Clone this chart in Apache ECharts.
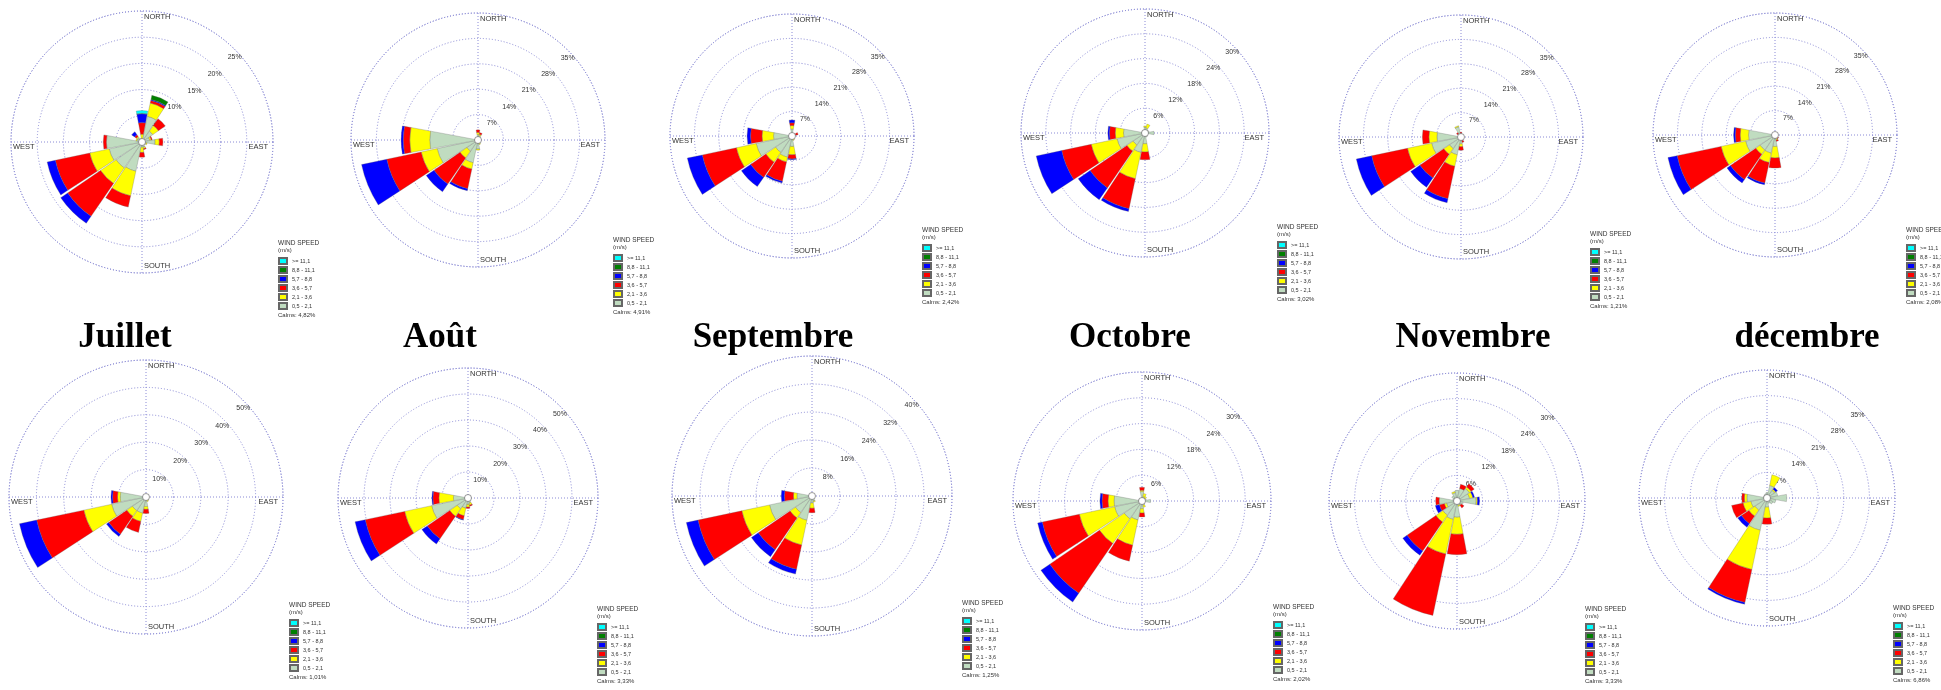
<!DOCTYPE html>
<html>
<head>
<meta charset="utf-8">
<script src="https://cdn.jsdelivr.net/npm/echarts@6/dist/echarts.min.js"></script>
<style>
  html, body { margin: 0; padding: 0; background: #fff; }
  #main { width: 1941px; height: 690px; }
</style>
</head>
<body>
<div id="main"></div>
<script>
// 16 directions, clockwise from north
const directions = ['N', 'NNE', 'NE', 'ENE', 'E', 'ESE', 'SE', 'SSE', 'S', 'SSW', 'SW', 'WSW', 'W', 'WNW', 'NW', 'NNW'];
// speed classes, from the centre outwards
const speedClasses = ['0,5 - 2,1', '2,1 - 3,6', '3,6 - 5,7', '5,7 - 8,8', '8,8 - 11,1', '>= 11,1'];
const monthTitles = ['Juillet', 'Août', 'Septembre', 'Octobre', 'Novembre', 'décembre'];
const ringSteps = [5, 7, 7, 6, 7, 7, 10, 10, 8, 6, 6, 7]; // % per ring, 5 rings each
const calms = ['4,82%', '4,91%', '2,42%', '3,02%', '1,21%', '2,08%', '1,01%', '3,33%', '1,25%', '2,02%', '3,33%', '6,86%'];

// frequencies (%) per speed class, rows follow speedClasses, columns follow directions
const rose01 = [
  [0.5, 5.0, 2.5, 1.5, 2.5, 0.8, 0.6, 1.0, 1.0, 5.7, 6.0, 6.4, 6.8, 1.0, 1.0, 0.5],
  [1.0, 2.6, 1.3, 0.3, 0.8, 0.2, 0, 0.3, 1.0, 4.8, 3.6, 3.8, 0, 0.2, 0.3, 0.2],
  [2.2, 0.5, 1.6, 0.2, 0.7, 0, 0, 0.2, 0.9, 2.2, 7.6, 6.7, 0.6, 0, 0.4, 0],
  [1.7, 0.2, 0, 0, 0, 0, 0, 0, 0, 0, 1.6, 1.6, 0, 0, 0.7, 0],
  [0.1, 0.8, 0, 0, 0, 0, 0, 0, 0, 0, 0, 0, 0, 0, 0, 0],
  [0.5, 0, 0, 0, 0, 0, 0, 0, 0, 0, 0, 0, 0, 0, 0, 0]
];
const rose02 = [
  [1.5, 1.2, 0.4, 0.3, 0.3, 0.3, 0.4, 1.0, 2.5, 6.4, 3.7, 11.5, 13.3, 0.3, 0.3, 0.5],
  [0.6, 0.4, 0, 0, 0, 0, 0, 0.3, 0.3, 1.8, 2.3, 4.5, 5.5, 0, 0, 0],
  [0.7, 0.5, 0, 0, 0, 0, 0, 0, 0, 5.5, 8.7, 9.7, 1.8, 0, 0, 0],
  [0, 0, 0, 0, 0, 0, 0, 0, 0, 0.6, 2.6, 7.1, 0.6, 0, 0, 0],
  [0, 0, 0, 0, 0, 0, 0, 0, 0, 0, 0, 0, 0, 0, 0, 0],
  [0, 0, 0, 0, 0, 0, 0, 0, 0, 0, 0, 0, 0, 0, 0, 0]
];
const rose03 = [
  [2.0, 0.5, 0.6, 1.0, 0.5, 0.4, 0.5, 1.0, 3.0, 6.2, 5.7, 10.5, 5.3, 0.5, 0.5, 0.6],
  [1.0, 0, 0, 0, 0, 0, 0, 0.3, 2.4, 1.4, 3.4, 5.8, 3.3, 0, 0, 0],
  [0.8, 0, 0.3, 0.8, 0, 0, 0, 0, 1.2, 5.7, 5.3, 10.0, 3.3, 0, 0, 0],
  [0.8, 0, 0, 0, 0, 0, 0, 0, 0.2, 0.5, 3.2, 4.4, 1.0, 0, 0, 0],
  [0, 0, 0, 0, 0, 0, 0, 0, 0, 0, 0, 0, 0, 0, 0, 0],
  [0, 0, 0, 0, 0, 0, 0, 0, 0, 0, 0, 0, 0, 0, 0, 0]
];
const rose04 = [
  [1.4, 1.2, 0.8, 1.0, 2.2, 0.6, 0.5, 1.0, 2.6, 4.8, 3.5, 6.9, 5.2, 0.8, 0.6, 0.8],
  [0.3, 1.0, 0, 0, 0, 0, 0, 0, 2.0, 6.5, 1.8, 6.4, 2.0, 0, 0, 0],
  [0, 0, 0, 0, 0, 0, 0, 0, 1.9, 7.4, 10.8, 7.3, 1.4, 0, 0, 0],
  [0, 0, 0, 0, 0, 0, 0, 0, 0, 0.7, 3.5, 6.3, 0.4, 0, 0, 0],
  [0, 0, 0, 0, 0, 0, 0, 0, 0, 0, 0, 0, 0, 0, 0, 0],
  [0, 0, 0, 0, 0, 0, 0, 0, 0, 0, 0, 0, 0, 0, 0, 0]
];
const rose05 = [
  [1.0, 0.8, 0.5, 0.4, 0.5, 0.3, 0.4, 1.0, 2.0, 5.2, 4.0, 8.6, 6.9, 0.8, 1.2, 3.0],
  [0, 0, 0, 0, 0, 0, 0, 0, 0.8, 3.4, 2.0, 7.1, 2.3, 0, 0, 0.3],
  [0.4, 0, 0, 0, 0, 0, 0, 0.6, 1.0, 9.5, 8.3, 10.5, 1.9, 0, 0.4, 0],
  [0, 0, 0, 0, 0, 0, 0, 0, 0, 1.2, 3.2, 4.5, 0, 0, 0, 0],
  [0, 0, 0, 0, 0, 0, 0, 0, 0, 0, 0, 0, 0, 0, 0, 0],
  [0, 0, 0, 0, 0, 0, 0, 0, 0, 0, 0, 0, 0, 0, 0, 0]
];
const rose06 = [
  [0.5, 0.4, 0.4, 0.3, 0.4, 0.6, 1.0, 1.2, 3.3, 5.3, 5.2, 8.6, 7.6, 0.5, 0.4, 0.4],
  [0, 0, 0, 0, 0, 0, 0, 0.3, 3.3, 2.8, 1.5, 7.2, 2.4, 0, 0, 0],
  [0, 0, 0, 0, 0, 0, 0.3, 0.4, 2.9, 6.0, 8.8, 12.9, 1.4, 0, 0, 0],
  [0, 0, 0, 0, 0, 0, 0, 0, 0, 0.5, 1.2, 2.7, 0.5, 0, 0, 0],
  [0, 0, 0, 0, 0, 0, 0, 0, 0, 0, 0, 0, 0, 0, 0, 0],
  [0, 0, 0, 0, 0, 0, 0, 0, 0, 0, 0, 0, 0, 0, 0, 0]
];
const rose07 = [
  [0.3, 0.3, 0.3, 0.3, 0.3, 0.5, 1.0, 1.2, 3.5, 6.0, 6.0, 12.8, 9.4, 0.5, 0.4, 0.3],
  [0, 0, 0, 0, 0, 0, 0.3, 0.5, 1.0, 3.1, 2.5, 10.4, 1.0, 0, 0, 0],
  [0, 0, 0, 0, 0, 0, 0, 0, 1.5, 4.1, 8.0, 17.6, 1.8, 0, 0, 0],
  [0, 0, 0, 0, 0, 0, 0, 0, 0, 0, 1.0, 6.4, 0.6, 0, 0, 0],
  [0, 0, 0, 0, 0, 0, 0, 0, 0, 0, 0, 0, 0, 0, 0, 0],
  [0, 0, 0, 0, 0, 0, 0, 0, 0, 0, 0, 0, 0, 0, 0, 0]
];
const rose08 = [
  [0.3, 0.3, 0.3, 0.3, 0.3, 0.5, 1.0, 2.0, 2.5, 4.0, 5.0, 14.3, 5.6, 0.4, 0.3, 0.3],
  [0, 0, 0, 0, 0, 0, 0, 0.8, 1.0, 3.0, 3.5, 10.6, 5.6, 0, 0, 0],
  [0, 0, 0, 0, 0, 0, 0, 0.4, 0.5, 1.5, 10.5, 15.5, 2.3, 0, 0, 0],
  [0, 0, 0, 0, 0, 0, 0, 0, 0, 0.2, 2.5, 4.0, 0.4, 0, 0, 0],
  [0, 0, 0, 0, 0, 0, 0, 0, 0, 0, 0, 0, 0, 0, 0, 0],
  [0, 0, 0, 0, 0, 0, 0, 0, 0, 0, 0, 0, 0, 0, 0, 0]
];
const rose09 = [
  [0.4, 0.3, 0.3, 0.3, 0.3, 0.4, 0.6, 1.5, 2.0, 7.1, 5.7, 12.4, 4.3, 0.5, 0.4, 0.3],
  [0, 0, 0, 0, 0, 0, 0, 0.3, 1.5, 7.2, 1.9, 8.1, 1.0, 0, 0, 0],
  [0, 0, 0, 0, 0, 0, 0, 0, 1.3, 7.1, 11.0, 12.8, 2.6, 0, 0, 0],
  [0, 0, 0, 0, 0, 0, 0, 0, 0, 1.4, 2.4, 3.4, 0.9, 0, 0, 0],
  [0, 0, 0, 0, 0, 0, 0, 0, 0, 0, 0, 0, 0, 0, 0, 0],
  [0, 0, 0, 0, 0, 0, 0, 0, 0, 0, 0, 0, 0, 0, 0, 0]
];
const rose10 = [
  [2.2, 1.0, 0.8, 1.0, 2.0, 0.6, 0.8, 1.0, 1.8, 4.5, 5.0, 6.5, 6.5, 0.8, 0.6, 0.6],
  [0.3, 0.8, 0.5, 0, 0, 0, 0, 0.5, 1.0, 6.0, 7.0, 8.4, 1.4, 0, 0, 0],
  [0.7, 0, 0, 0, 0, 0, 0, 0, 0.9, 3.8, 14.0, 8.8, 1.4, 0, 0, 0],
  [0, 0, 0, 0, 0, 0, 0, 0, 0, 0, 2.5, 1.1, 0.5, 0, 0, 0],
  [0, 0, 0, 0, 0, 0, 0, 0, 0, 0, 0, 0, 0, 0, 0, 0],
  [0, 0, 0, 0, 0, 0, 0, 0, 0, 0, 0, 0, 0, 0, 0, 0]
];
const rose11 = [
  [2.5, 3.0, 3.5, 3.0, 4.5, 1.5, 1.2, 1.0, 3.8, 4.4, 4.0, 2.5, 4.2, 1.0, 1.5, 2.0],
  [0, 0, 0.5, 0.8, 0.3, 0, 0, 0.3, 4.0, 8.3, 2.0, 0.5, 0, 0, 0, 0.3],
  [0, 1.0, 0.9, 0, 0, 0, 0.8, 0, 4.8, 14.7, 8.2, 1.2, 0.8, 0, 0, 0],
  [0, 0, 0, 0.4, 0.5, 0, 0, 0, 0, 0, 1.2, 1.0, 0, 0, 0, 0],
  [0, 0, 0, 0, 0, 0, 0, 0, 0, 0, 0, 0, 0, 0, 0, 0],
  [0, 0, 0, 0, 0, 0, 0, 0, 0, 0, 0, 0, 0, 0, 0, 0]
];
const rose12 = [
  [1.5, 3.5, 2.5, 3.0, 5.4, 2.5, 2.0, 1.5, 2.5, 9.0, 4.0, 4.5, 5.5, 1.0, 1.0, 1.2],
  [0, 3.0, 0.4, 0, 0, 0, 0, 0, 3.0, 11.0, 2.0, 2.2, 0.7, 0, 0, 0],
  [0, 0, 0, 0, 0, 0, 0, 0, 1.7, 9.2, 2.5, 3.2, 0.7, 0, 0, 0],
  [0, 0, 0.6, 0, 0, 0, 0, 0, 0, 0.5, 1.2, 0, 0, 0, 0, 0],
  [0, 0, 0, 0, 0, 0, 0, 0, 0, 0, 0, 0, 0, 0, 0, 0],
  [0, 0, 0, 0, 0, 0, 0, 0, 0, 0, 0, 0, 0, 0, 0, 0]
];
const roses = [rose01, rose02, rose03, rose04, rose05, rose06, rose07, rose08, rose09, rose10, rose11, rose12];

// layout: centre x, centre y, outer radius, legend x, legend first box y
const layout = [
  [142, 142, 131, 278, 260], [478, 140, 127, 613, 257], [792, 136, 122, 922, 247],
  [1145, 133, 124, 1277, 244], [1461, 137, 122, 1590, 251], [1775, 135, 122, 1906, 247],
  [146, 497, 137, 289, 622], [468, 498, 130, 597, 626], [812, 496, 140, 962, 620],
  [1142, 501, 129, 1273, 624], [1457, 501, 128, 1585, 626], [1767, 498, 128, 1893, 625]
];
const titlePos = [[125, 338], [440, 338], [773, 338], [1130, 338], [1473, 338], [1807, 338]];

const speedColors = ['#c0dcc0', '#ffff00', '#ff0000', '#0000ff', '#008000', '#00ffff'];
const sans = 'Liberation Sans, Arial, sans-serif';
const gridLine = { type: [1, 2], color: '#8a8ad6', width: 1 };
const legendPitch = 9.2;

const myChart = echarts.init(document.getElementById('main'));
const polar = [], angleAxis = [], radiusAxis = [], series = [], legend = [], graphic = [];

layout.forEach((L, i) => {
  const [cx, cy, r, lx, ly] = L;
  const step = ringSteps[i];
  const max = step * 5;
  const base = polar.length;
  for (let k = 0; k < 3; k++) polar.push({ center: [cx, cy], radius: [0, r] });

  // rings + compass cross
  angleAxis.push({
    polarIndex: base, type: 'value', min: 0, max: 360, interval: 90, startAngle: 90,
    axisLine: { show: true, lineStyle: gridLine }, axisTick: { show: false }, axisLabel: { show: false },
    splitLine: { show: true, lineStyle: gridLine }
  });
  radiusAxis.push({
    polarIndex: base, type: 'value', min: 0, max: max, interval: step,
    axisLine: { show: false }, axisTick: { show: false }, axisLabel: { show: false },
    splitLine: { show: true, lineStyle: gridLine }
  });
  // ring labels along the NE diagonal
  angleAxis.push({ polarIndex: base + 1, type: 'value', min: 0, max: 360, startAngle: 40, show: false });
  radiusAxis.push({
    polarIndex: base + 1, type: 'value', min: 0, max: max, interval: step,
    axisLine: { show: false }, axisTick: { show: false }, splitLine: { show: false },
    axisLabel: { formatter: '{value}%', showMinLabel: false, fontSize: 7, color: '#333', fontFamily: sans, margin: 1 }
  });
  // petals
  angleAxis.push({ polarIndex: base + 2, type: 'category', data: directions, startAngle: 101.25, boundaryGap: true, show: false });
  radiusAxis.push({ polarIndex: base + 2, type: 'value', min: 0, max: max, show: false });

  roses[i].forEach((row, k) => {
    series.push({
      type: 'bar', coordinateSystem: 'polar', polarIndex: base + 2, stack: 'rose' + i,
      name: speedClasses[k],
      data: row.map((v) => (v > 0 ? v : null)),
      barCategoryGap: '6%',
      itemStyle: { color: speedColors[k], borderColor: '#666', borderWidth: 0.3 },
      silent: true
    });
  });

  legend.push({
    orient: 'vertical', left: lx, top: ly - 3, padding: 0,
    itemWidth: 8, itemHeight: 6, itemGap: 1, icon: 'rect', selectedMode: false,
    data: speedClasses.slice().reverse(),
    textStyle: { fontSize: 5.5, lineHeight: 6, color: '#333', fontFamily: sans, padding: 0 }
  });

  const txt = (x, y, text, align, size) => ({
    type: 'text', x: x, y: y, silent: true, z: 100,
    style: { text: text, fontSize: size || 7.5, fontFamily: sans, fill: '#333',
      align: align, textAlign: align, verticalAlign: 'middle', textVerticalAlign: 'middle' }
  });
  graphic.push(txt(cx + 2, cy - r + 6, 'NORTH', 'left'));
  graphic.push(txt(cx + 2, cy + r - 7, 'SOUTH', 'left'));
  graphic.push(txt(cx - r + 2, cy + 5, 'WEST', 'left'));
  graphic.push(txt(cx + r - 5, cy + 5, 'EAST', 'right'));
  graphic.push(txt(lx, ly - 17, 'WIND SPEED', 'left', 6.5));
  graphic.push(txt(lx, ly - 10, '(m/s)', 'left', 6));
  graphic.push(txt(lx, ly + 5 * legendPitch + 9.5, 'Calms: ' + calms[i], 'left', 6));
  graphic.push({
    type: 'circle', shape: { cx: cx, cy: cy, r: 3.5 }, z: 100, silent: true,
    style: { fill: '#fff', stroke: '#555', lineWidth: 0.6 }
  });
});

monthTitles.forEach((t, j) => {
  graphic.push({
    type: 'text', x: titlePos[j][0], y: titlePos[j][1], silent: true,
    style: { text: t, fontSize: 35, fontWeight: 'bold', fontFamily: 'Liberation Serif, Times New Roman, serif',
      fill: '#000', align: 'center', textAlign: 'center', verticalAlign: 'middle', textVerticalAlign: 'middle' }
  });
});

myChart.setOption({
  animation: false,
  backgroundColor: '#fff',
  polar: polar,
  angleAxis: angleAxis,
  radiusAxis: radiusAxis,
  legend: legend,
  graphic: graphic,
  series: series
});
</script>
</body>
</html>
